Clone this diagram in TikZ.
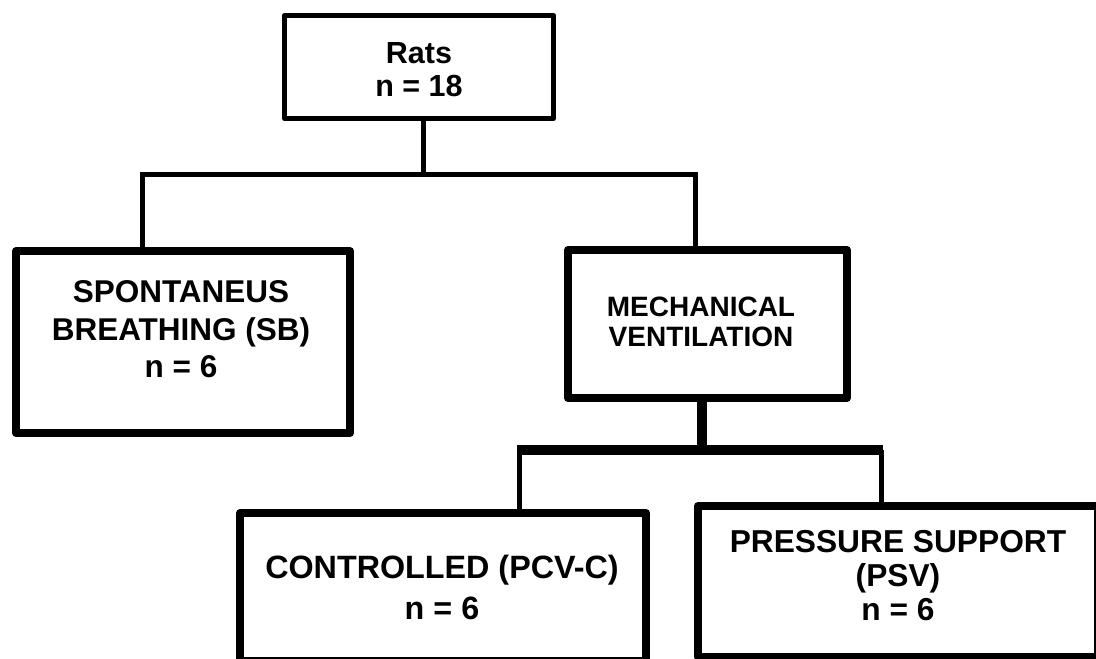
\documentclass[tikz,border=0pt]{standalone}
\usepackage{fontspec}
\setmainfont{Liberation Sans}
\begin{document}
\begin{tikzpicture}[x=1pt,y=-1pt]
\tikzset{
  boxline/.style={draw=black, fill=white, line width=8pt, line join=round, inner sep=0pt, outer sep=0pt},
  lbl/.style={align=center, inner sep=0pt, outer sep=0pt},
  link/.style={line width=5pt, line join=miter},
  trunk/.style={line width=10pt}
}
\useasboundingbox (0,0) rectangle (1096,659);
\clip (0,0) rectangle (1096,659);

% boxes
\node[boxline, line width=5pt, minimum width=269pt, minimum height=103pt] (rats) at (419,67) {};
\node[boxline, minimum width=334pt, minimum height=182pt] (sb) at (183,342) {};
\node[boxline, minimum width=279pt, minimum height=148pt] (mv) at (707.5,324) {};
\node[boxline, minimum width=406pt, minimum height=148pt] (ctrl) at (443,587) {};
\node[boxline, minimum width=400pt, minimum height=151pt] (psv) at (898,581.5) {};

% labels
\node[lbl, font={\fontsize{30.5}{33}\selectfont\bfseries}] (ratsT) at (419,69.5) {Rats\\n = 18};
\node[lbl, font={\fontsize{31.5}{37.5}\selectfont\bfseries}] (sbT) at (181,329.5) {SPONTANEUS\\BREATHING (SB)\\n = 6};
\node[lbl, font={\fontsize{28}{30}\selectfont\bfseries}] (mvT) at (701,322) {MECHANICAL\\VENTILATION};
\node[lbl, font={\fontsize{32.3}{41}\selectfont\bfseries}] (ctrlT) at (442,587.5) {CONTROLLED (PCV-C)\\n = 6};
\node[lbl, font={\fontsize{31.7}{34}\selectfont\bfseries}] (psvT) at (898,576) {PRESSURE SUPPORT\\(PSV)\\n = 6};

% connector coordinates
\coordinate (busL) at (142,174);
\coordinate (busM) at (423,174);
\coordinate (busR) at (695,174);
\coordinate (lowM) at (702,450);
\coordinate (lowL) at (519,450);
\coordinate (lowR) at (881,450);
\coordinate (lowLe) at (517,450);
\coordinate (lowRe) at (883,450);

% upper level
\draw[link] (busM |- rats.south) -- (busM);
\draw[link] (busL |- sb.north) -- (busL) -- (busR) -- (busR |- mv.north);

% lower level
\draw[trunk] (lowM |- mv.south) -- (lowM);
\draw[trunk] (lowLe) -- (lowRe);
\draw[link] (lowL) -- (lowL |- ctrl.north);
\draw[link] (lowR) -- (lowR |- psv.north);
\end{tikzpicture}
\end{document}
